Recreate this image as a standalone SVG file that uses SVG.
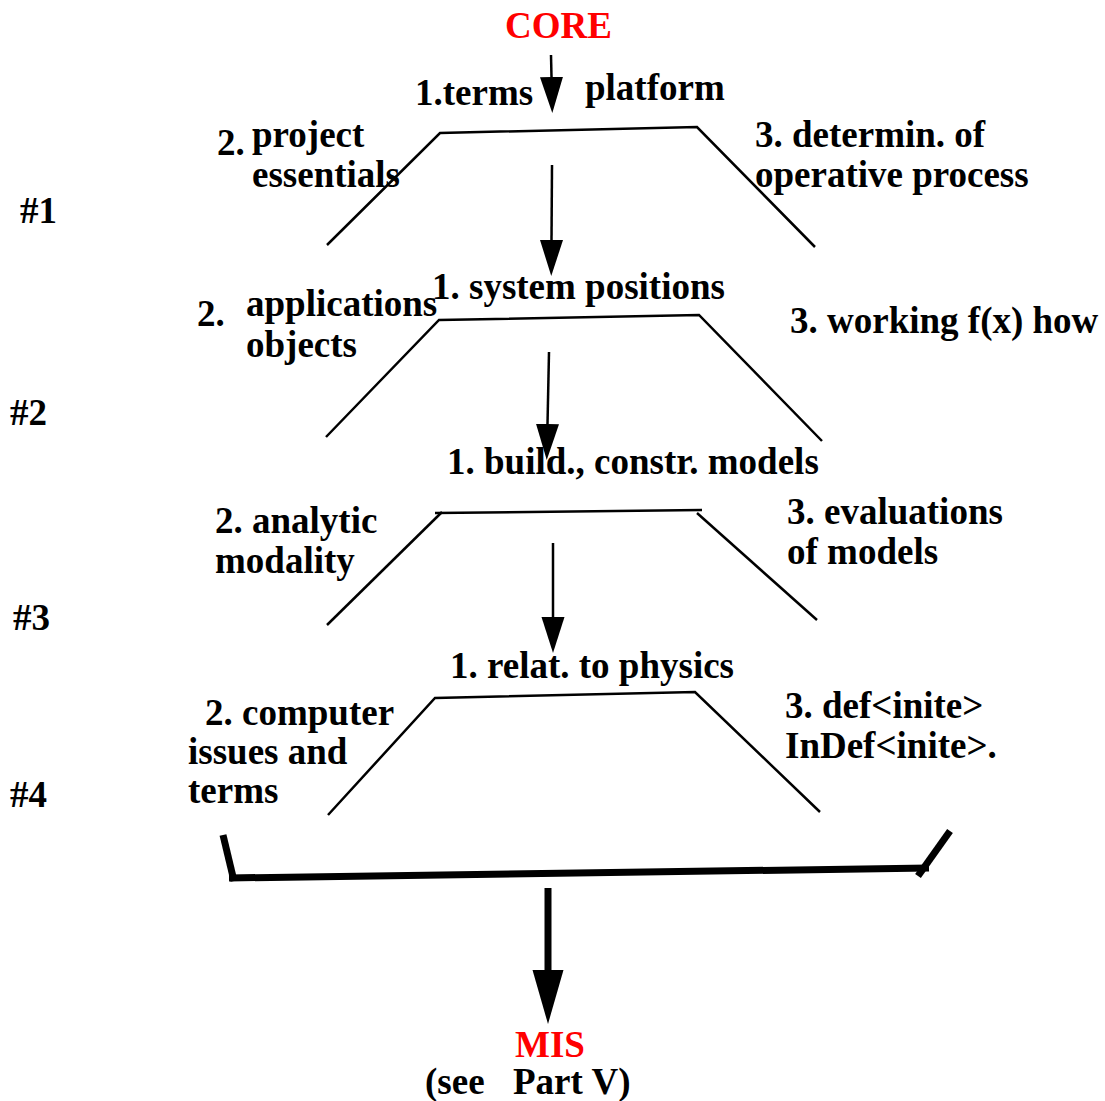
<svg xmlns="http://www.w3.org/2000/svg" width="1105" height="1101" viewBox="0 0 1105 1101">
  <style>
    text { font-family: "Liberation Serif", "Times New Roman", serif; font-weight: bold; font-size: 37px; fill: #000; }
    .red { fill: #ff0000; }
    .edge { stroke: #000; stroke-width: 2.5; fill: none; }
    .flow { stroke: #000; stroke-width: 2.5; fill: none; marker-end: url(#head); }
    .bar { stroke: #000; stroke-width: 7; fill: none; }
  </style>
  <defs>
    <marker id="head" markerUnits="userSpaceOnUse" markerWidth="40" markerHeight="24" refX="0" refY="11.5" orient="auto">
      <path d="M0,0 L36,11.5 L0,23 z" fill="#000"/>
    </marker>
    <marker id="bighead" markerUnits="userSpaceOnUse" markerWidth="56" markerHeight="32" refX="0" refY="15.5" orient="auto">
      <path d="M0,0 L54,15.5 L0,31 z" fill="#000"/>
    </marker>
  </defs>

  <rect width="1105" height="1101" fill="#fff"/>

  <!-- terminals -->
  <g id="core"><text class="red" x="505" y="38">CORE</text></g>
  <g id="mis">
    <text class="red" x="515" y="1057">MIS</text>
    <text x="425" y="1094">(see</text>
    <text x="513" y="1094">Part V)</text>
  </g>

  <!-- level markers -->
  <g id="level-1"><text x="20" y="223">#1</text></g>
  <g id="level-2"><text x="10" y="425">#2</text></g>
  <g id="level-3"><text x="13" y="630">#3</text></g>
  <g id="level-4"><text x="10" y="807">#4</text></g>

  <!-- level 1 -->
  <g id="stage-1">
    <path class="edge" d="M327,245 L440,133 L697,127 L815,247"/>
    <text x="415" y="105">1.terms</text>
    <text x="585" y="100">platform</text>
    <text x="217" y="155">2.</text>
    <text x="252" y="147">project</text>
    <text x="252" y="187">essentials</text>
    <text x="755" y="147">3. determin. of</text>
    <text x="755" y="187">operative process</text>
  </g>

  <!-- level 2 -->
  <g id="stage-2">
    <path class="edge" d="M326,437 L439,320 L699,315 L822,441"/>
    <text x="432" y="299">1. system positions</text>
    <text x="197" y="326">2.</text>
    <text x="246" y="316">applications</text>
    <text x="246" y="357">objects</text>
    <text x="790" y="333">3. working f(x) how</text>
  </g>

  <!-- level 3 -->
  <g id="stage-3">
    <path class="edge" d="M435,513 L702,510"/>
    <path class="edge" d="M327,625 L442,512"/>
    <path class="edge" d="M697,513 L817,620"/>
    <text x="447" y="474">1. build., constr. models</text>
    <text x="215" y="533">2. analytic</text>
    <text x="215" y="573">modality</text>
    <text x="787" y="524">3. evaluations</text>
    <text x="787" y="564">of models</text>
  </g>

  <!-- level 4 -->
  <g id="stage-4">
    <path class="edge" d="M328,815 L435,698 L695,692 L820,812"/>
    <text x="450" y="678">1. relat. to physics</text>
    <text x="205" y="725">2. computer</text>
    <text x="188" y="764">issues and</text>
    <text x="188" y="803">terms</text>
    <text x="785" y="718">3. def&lt;inite&gt;</text>
    <text x="785" y="758">InDef&lt;inite&gt;.</text>
  </g>

  <!-- collecting bracket -->
  <g id="bracket">
    <path class="bar" d="M223,835 L234,881"/>
    <path class="bar" d="M229,878 L929,868"/>
    <path class="bar" d="M950,831 L918,876"/>
  </g>

  <!-- connectors -->
  <g id="connectors">
    <path class="flow" d="M551,55 L551.5,77"/>
    <path class="flow" d="M552,165 L551.5,240"/>
    <path class="flow" d="M549,352 L547.5,424"/>
    <path class="flow" d="M553,543 L553,617"/>
    <path d="M548,888 L548,970" stroke="#000" stroke-width="7" fill="none" marker-end="url(#bighead)"/>
  </g>
</svg>
